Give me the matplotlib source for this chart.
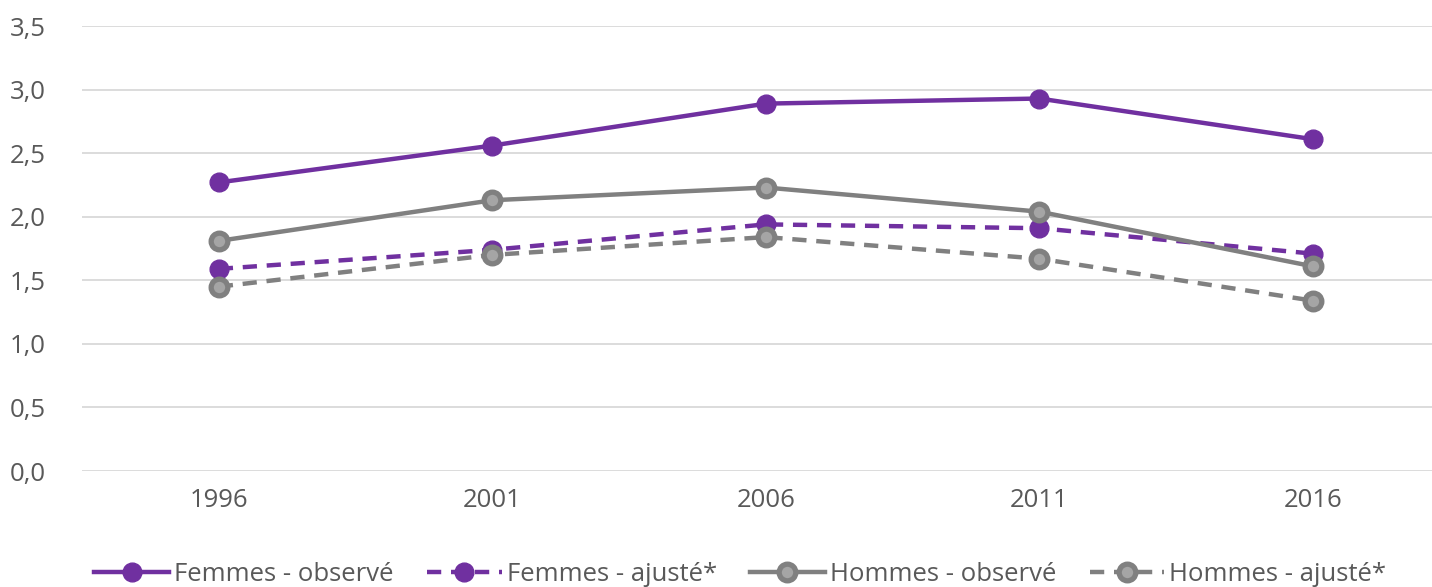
import numpy as np
import matplotlib.pyplot as plt

years = ["1996", "2001", "2006", "2011", "2016"]
femmes_obs = [2.27, 2.56, 2.89, 2.93, 2.61]
femmes_adj = [1.59, 1.74, 1.94, 1.91, 1.71]
hommes_obs = [1.81, 2.13, 2.23, 2.04, 1.61]
hommes_adj = [1.45, 1.70, 1.84, 1.67, 1.34]
labels = ["Femmes - observé", "Femmes - ajusté*",
          "Hommes - observé", "Hommes - ajusté*"]

plt.rcParams['font.family'] = ['Open Sans', 'DejaVu Sans']

purple = "#7030A0"
grey = "#808080"
grey_face = "#A5A5A5"

fig = plt.figure(figsize=(14.32, 5.87), dpi=100)
ax = fig.add_axes([0.0573, 0.1976, 0.955, 0.758])

x = np.arange(len(years))
dash = (0, (3.2, 2.2))

ax.plot(x, femmes_obs, color=purple, lw=3.2, marker='o', ms=13.5,
        mfc=purple, mec=purple, label=labels[0])
ax.plot(x, femmes_adj, color=purple, lw=3.2, ls=dash, marker='o', ms=13.5,
        mfc=purple, mec=purple, label=labels[1])
ax.plot(x, hommes_obs, color=grey, lw=3.2, marker='o', ms=12,
        mfc=grey_face, mec=grey, mew=3.8, label=labels[2])
ax.plot(x, hommes_adj, color=grey, lw=3.2, ls=dash, marker='o', ms=12,
        mfc=grey_face, mec=grey, mew=3.8, label=labels[3])

ax.set_xlim(-0.5, len(years) - 0.5)
ax.set_ylim(0, 3.5)
ax.set_xticks(x)
ax.set_xticklabels(years)
yt = np.arange(0, 3.51, 0.5)
ax.set_yticks(yt)
ax.set_yticklabels([f"{v:.1f}".replace(".", ",") for v in yt])
ax.tick_params(length=0, labelsize=18.5, colors="#595959", pad=12)
ax.tick_params(axis='y', pad=26)
ax.grid(axis='y', color="#D9D9D9", lw=1.3)
ax.set_axisbelow(True)
for s in ax.spines.values():
    s.set_visible(False)

fig.legend(loc='lower center', bbox_to_anchor=(0.517, -0.04), ncol=4,
           frameon=False, fontsize=18.5, handlelength=2.9, columnspacing=1.3,
           handletextpad=0.2, labelcolor="#595959")

fig.savefig("out.png", dpi=100)
